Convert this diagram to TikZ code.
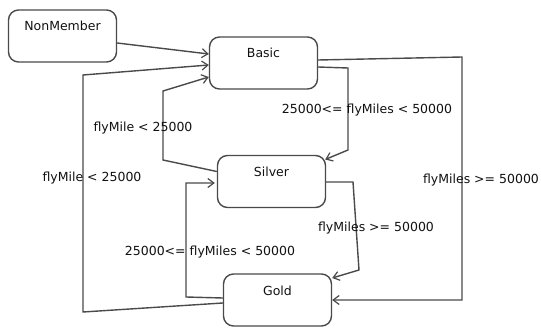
\documentclass[tikz,border=0pt]{standalone}
\usepackage{fontspec}
\setmainfont{DejaVu Sans}
\usetikzlibrary{arrows.meta,calc}
\definecolor{edgegray}{HTML}{4A4A4A}
\definecolor{inkgray}{HTML}{111111}
\tikzset{
  statebox/.style={draw=edgegray, line width=1.4pt, rounded corners=10pt,
    minimum width=108pt, minimum height=52pt, inner ysep=5pt,
    text height=16pt, text depth=26pt, text=inkgray,
    font=\fontsize{12.5}{14}\selectfont},
  guard/.style={text=inkgray, inner sep=0pt, font=\fontsize{12.5}{14}\selectfont},
  trans/.style={draw=edgegray, line width=1.4pt,
    -{Straight Barb[length=6pt,width=9pt,line width=1.2pt]}}
}
\begin{document}
\begin{tikzpicture}[x=1pt,y=-1pt]
\useasboundingbox (0,0) rectangle (541,329);

% states
\node[statebox] (nm)     at (62.5,36)  {NonMember};
\node[statebox] (basic)  at (263.5,63) {Basic};
\node[statebox] (silver) at (271.5,181.5) {Silver};
\node[statebox] (gold)   at (277.5,300) {Gold};

% NonMember -> Basic
\draw[trans] ($(nm.east)+(0,7)$) -- ($(basic.west)+(0,-9)$);

% Gold -> Basic (outer left loop)
\coordinate (gbA) at (83,312);
\coordinate (gbB) at (83,75);
\draw[trans] ($(gold.west)+(0,3)$) -- (gbA) -- (gbB) -- ($(basic.west)+(0,2)$);

% Silver -> Basic
\coordinate (sbA) at (163,160);
\coordinate (sbB) at (163,91);
\draw[trans] ($(silver.west)+(0,-10)$) -- (sbA) -- (sbB) -- ($(basic.west)+(0,14)$);

% Basic -> Silver
\coordinate (bsA) at (348,68);
\coordinate (bsB) at (348,150);
\draw[trans] ($(basic.east)+(0,4)$) -- (bsA) -- (bsB) -- ($(silver.east)+(-1,-22)$);

% Basic -> Gold (outer right loop)
\coordinate (bgA) at (462,57);
\coordinate (bgB) at (462,300);
\draw[trans] ($(basic.east)+(0,-3)$) -- (bgA) -- (bgB) -- (gold.east);

% Silver -> Gold
\coordinate (sgA) at (353,182);
\coordinate (sgB) at (359,270);
\draw[trans] ($(silver.east)+(0,0.5)$) -- (sgA) -- (sgB) -- ($(gold.east)+(0,-22)$);

% Gold -> Silver
\coordinate (gsA) at (186,297);
\coordinate (gsB) at (186,183);
\draw[trans] ($(gold.west)+(0,-2)$) -- (gsA) -- (gsB) -- ($(silver.west)+(-2,1.5)$);

% guards
\node[guard] (g1) at (143,128) {flyMile < 25000};
\node[guard] (g2) at (367,110) {25000<= flyMiles < 50000};
\node[guard] (g3) at (92,178)  {flyMile < 25000};
\node[guard] (g4) at (210,252) {25000<= flyMiles < 50000};
\node[guard] (g5) at (376,228) {flyMiles >= 50000};
\node[guard] (g6) at (481,180) {flyMiles >= 50000};
\end{tikzpicture}
\end{document}
